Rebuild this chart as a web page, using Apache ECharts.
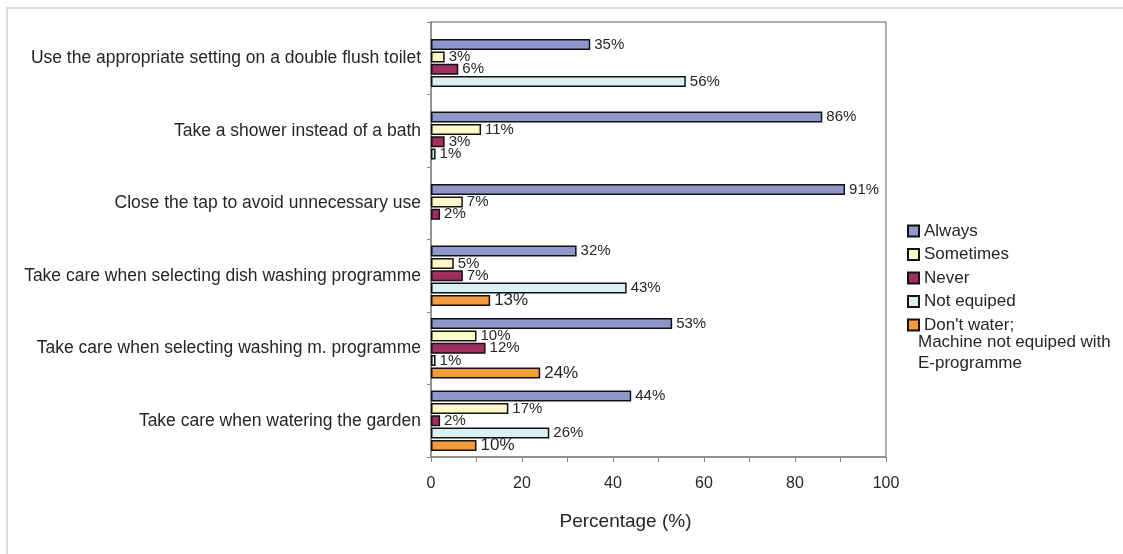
<!DOCTYPE html>
<html>
<head>
<meta charset="utf-8">
<script src="https://cdn.jsdelivr.net/npm/echarts@6/dist/echarts.min.js"></script>
<style>
html,body{margin:0;padding:0;background:#fff;}
#chart{width:1123px;height:554px;}
</style>
</head>
<body>
<div id="chart"></div>
<script>
const categories = [
  'Use the appropriate setting on a double flush toilet',
  'Take a shower instead of a bath',
  'Close the tap to avoid unnecessary use',
  'Take care when selecting dish washing programme',
  'Take care when selecting washing m. programme',
  'Take care when watering the garden'
];
const seriesNames = ['Always', 'Sometimes', 'Never', 'Not equiped', "Don't water; Machine not equiped with E-programme"];
const always     = [35, 86, 91, 32, 53, 44];
const sometimes  = [3, 11, 7, 5, 10, 17];
const never      = [6, 3, 2, 7, 12, 2];
const notEquiped = [56, 1, null, 43, 1, 26];
const dontWater  = [null, null, null, 13, 24, 10];
const xTickLabels = [0, 20, 40, 60, 80, 100];
// categories whose bar group sits one slot lower in the reference
const lowerGroupCats = [0, 1, 2];

const values = [always, sometimes, never, notEquiped, dontWater];
const colors = ['#9097cb', '#fdf9c8', '#9e2f60', '#dbf1f1', '#f39b3a'];

const textColor = '#262626';
const font = 'Liberation Sans, Arial, sans-serif';

const series = [];
[0, 1].forEach(function (g) {
  values.forEach(function (vals, s) {
    series.push({
      type: 'bar',
      name: seriesNames[s],
      xAxisIndex: g,
      yAxisIndex: g,
      barWidth: 11,
      barGap: '12%',
      data: vals.map(function (v, i) {
        const inLower = lowerGroupCats.indexOf(i) >= 0;
        return (v != null && inLower === (g === 1)) ? v : '-';
      }),
      itemStyle: { color: colors[s], borderColor: '#111', borderWidth: 1.5 },
      label: {
        show: true,
        position: 'right',
        distance: 4,
        formatter: '{c}%',
        fontFamily: font,
        fontSize: s === 4 ? 17 : 15,
        color: textColor
      },
      emphasis: { disabled: true },
      animation: false
    });
  });
});

const grids = [
  { left: 431, right: 237, top: 22, bottom: 97, show: true, borderColor: '#999', borderWidth: 1.5, backgroundColor: 'transparent' },
  { left: 431, right: 237, top: 33, bottom: 86, show: false }
];

const chart = echarts.init(document.getElementById('chart'));
chart.setOption({
  backgroundColor: '#fff',
  animation: false,
  grid: grids,
  xAxis: [
    {
      gridIndex: 0, type: 'value', min: 0, max: 100, interval: 10,
      name: 'Percentage (%)', nameLocation: 'middle', nameGap: 55,
      nameTextStyle: { fontFamily: font, fontSize: 19, color: textColor, padding: [0, 66, 0, 0] },
      axisLine: { show: true, lineStyle: { color: '#888', width: 1.5 } },
      axisTick: { show: true, length: 5, lineStyle: { color: '#888' } },
      axisLabel: {
        margin: 19, fontFamily: font, fontSize: 16, color: textColor,
        formatter: function (v) { return xTickLabels.indexOf(v) >= 0 ? String(v) : ''; }
      },
      splitLine: { show: false }
    },
    {
      gridIndex: 1, type: 'value', min: 0, max: 100, show: false,
      splitLine: { show: false }
    }
  ],
  yAxis: [
    {
      gridIndex: 0, type: 'category', data: categories, inverse: true,
      axisLine: { show: true, lineStyle: { color: '#888', width: 1.5 } },
      axisTick: { show: true, length: 4, lineStyle: { color: '#888' } },
      axisLabel: { margin: 10, fontFamily: font, fontSize: 17.5, color: textColor }
    },
    {
      gridIndex: 1, type: 'category', data: categories, inverse: true, show: false
    }
  ],
  legend: {
    orient: 'vertical',
    left: 902,
    top: 216,
    itemWidth: 11,
    itemHeight: 11,
    itemGap: 3.5,
    icon: 'rect',
    selectedMode: false,
    data: seriesNames,
    formatter: function (name) { return name.indexOf("Don't") === 0 ? "Don't water;" : name; },
    textStyle: { fontFamily: font, fontSize: 17, color: textColor, lineHeight: 20 }
  },
  graphic: [
    { type: 'rect', silent: true, shape: { x: 7, y: 8, width: 1140, height: 580 }, style: { fill: 'none', stroke: '#d0d0d0', lineWidth: 1.5 } },
    { type: 'text', silent: true, left: 918, top: 334, style: { text: 'Machine not equiped with', font: '17px ' + font, fill: textColor } },
    { type: 'text', silent: true, left: 918, top: 355, style: { text: 'E-programme', font: '17px ' + font, fill: textColor } }
  ],
  series: series
});
</script>
</body>
</html>
